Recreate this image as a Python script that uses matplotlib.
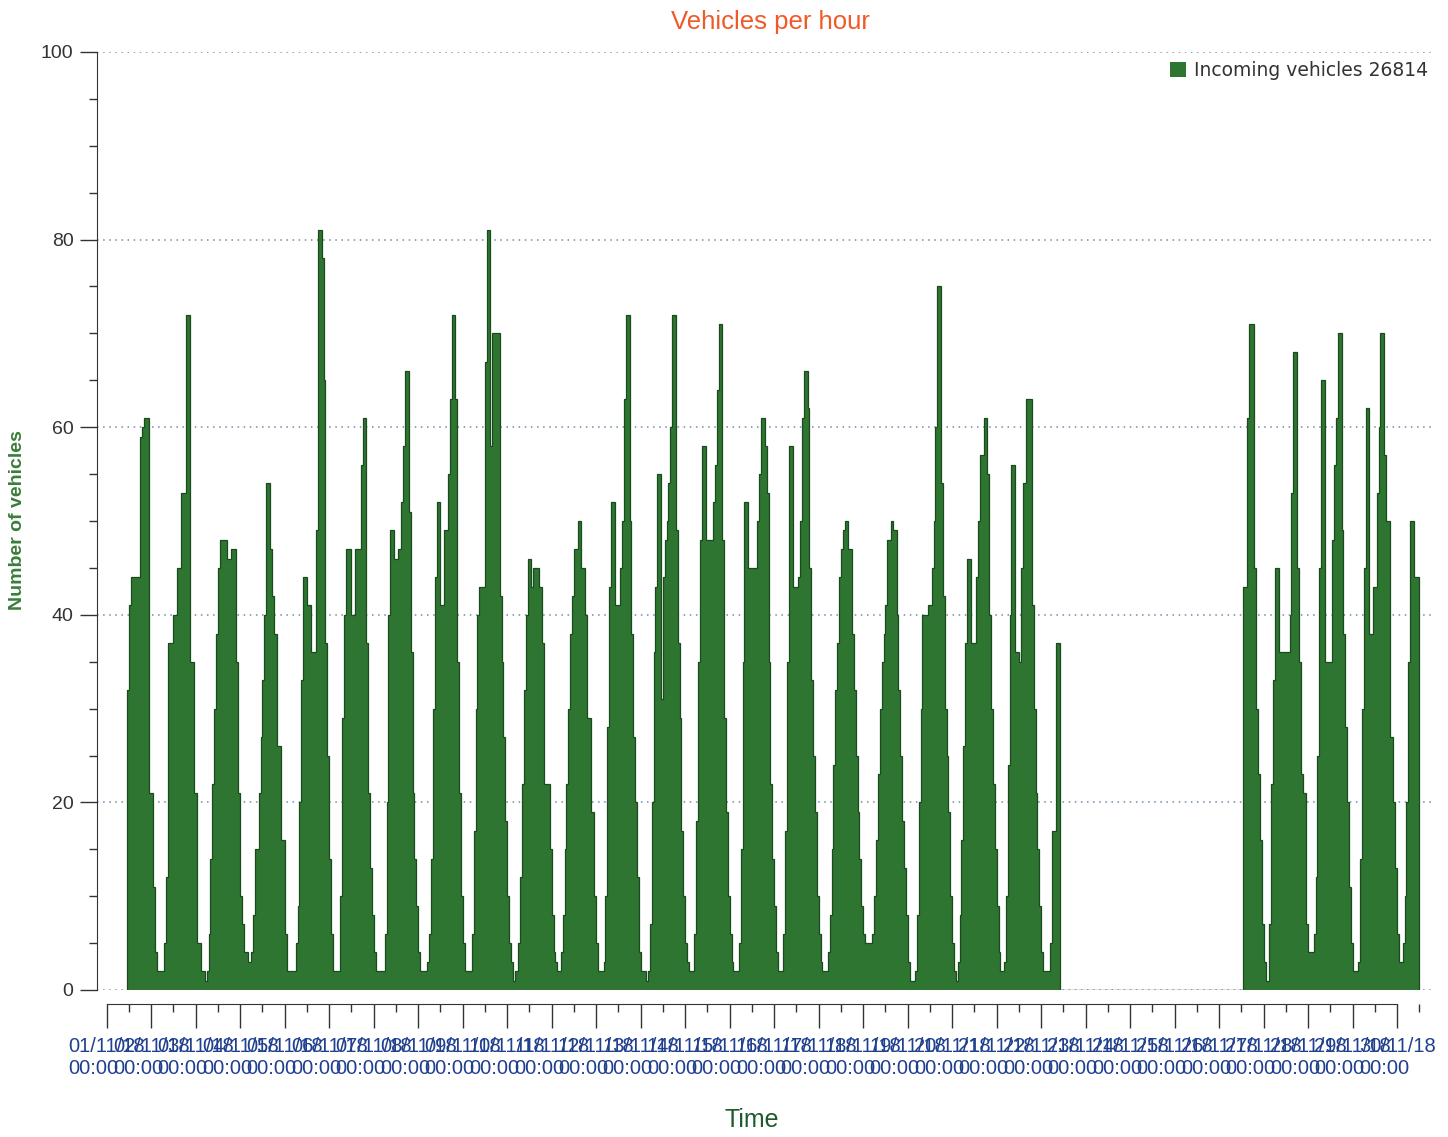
import numpy as np
import pandas as pd
import matplotlib
matplotlib.use('Agg')
import matplotlib.pyplot as plt
from matplotlib.ticker import MultipleLocator

plt.rcParams['font.family'] = ['Liberation Sans', 'DejaVu Sans']

# hourly counts per day (index = hour of day), partial days noted
nov01 = [32, 41, 44, 44, 44, 44, 44, 59, 60, 61, 61, 61, 21]  # from 11:00
nov02 = [21, 11, 4, 2, 2, 2, 2, 5, 12, 37, 37, 37, 40, 40, 45, 45, 53, 53, 53, 72, 72, 35, 35, 21]
nov03 = [21, 5, 5, 2, 2, 1, 2, 6, 14, 22, 30, 38, 45, 48, 48, 48, 48, 46, 46, 47, 47, 47, 35, 21]
nov04 = [10, 7, 4, 4, 3, 3, 4, 8, 15, 15, 21, 27, 33, 40, 54, 54, 47, 42, 38, 38, 26, 26, 16, 16]
nov05 = [6, 2, 2, 2, 2, 2, 5, 9, 20, 33, 44, 44, 41, 41, 36, 36, 36, 49, 81, 81, 78, 65, 37, 25]
nov06 = [14, 6, 2, 2, 2, 2, 10, 29, 40, 47, 47, 47, 40, 40, 47, 47, 47, 56, 61, 61, 37, 21, 13, 8]
nov07 = [4, 2, 2, 2, 2, 2, 6, 20, 40, 49, 49, 46, 46, 47, 47, 52, 58, 66, 66, 51, 36, 21, 14, 9]
nov08 = [4, 2, 2, 2, 2, 3, 6, 14, 30, 44, 52, 52, 41, 41, 49, 49, 55, 63, 72, 72, 63, 35, 21, 10]
nov09 = [5, 2, 2, 2, 2, 6, 17, 30, 40, 43, 43, 43, 67, 81, 81, 58, 70, 70, 70, 70, 42, 35, 27, 18]
nov10 = [10, 5, 3, 1, 2, 2, 5, 12, 22, 32, 40, 46, 46, 43, 45, 45, 45, 43, 43, 37, 22, 22, 22, 15]
nov11 = [8, 4, 3, 2, 2, 4, 8, 15, 22, 30, 38, 42, 47, 47, 50, 50, 45, 45, 40, 29, 29, 19, 19, 10]
nov12 = [5, 2, 2, 2, 3, 10, 28, 43, 52, 52, 41, 41, 41, 45, 50, 63, 72, 72, 50, 38, 27, 20, 12, 4]
nov13 = [2, 2, 2, 1, 2, 7, 20, 36, 43, 55, 55, 31, 44, 48, 50, 54, 60, 72, 72, 49, 37, 29, 17, 10]
nov14 = [5, 3, 2, 2, 2, 6, 18, 35, 48, 58, 58, 48, 48, 48, 48, 52, 56, 64, 71, 71, 48, 29, 19, 10]
nov15 = [6, 3, 2, 2, 2, 5, 15, 35, 52, 52, 45, 45, 45, 45, 45, 50, 55, 61, 61, 58, 53, 35, 22, 14]
nov16 = [9, 4, 2, 2, 2, 6, 17, 35, 58, 58, 43, 43, 43, 44, 50, 61, 66, 66, 62, 45, 33, 25, 19, 10]
nov17 = [6, 3, 2, 2, 2, 4, 8, 15, 24, 32, 37, 44, 47, 49, 50, 50, 47, 47, 38, 32, 25, 19, 14, 9]
nov18 = [6, 5, 5, 5, 5, 6, 10, 16, 23, 30, 35, 38, 41, 48, 48, 50, 49, 49, 40, 32, 25, 18, 13, 8]
nov19 = [3, 1, 1, 1, 2, 8, 20, 30, 40, 40, 40, 41, 41, 45, 50, 60, 75, 75, 54, 42, 30, 25, 19, 10]
nov20 = [5, 2, 1, 3, 8, 16, 26, 37, 46, 46, 37, 37, 37, 44, 50, 57, 57, 61, 61, 55, 40, 30, 22, 15]
nov21 = [9, 4, 2, 2, 3, 10, 24, 40, 56, 56, 36, 36, 35, 45, 54, 54, 63, 63, 63, 41, 30, 21, 15, 9]
nov22 = [4, 2, 2, 2, 2, 5, 17, 17, 37, 37]  # until 09:00
nov26 = [43, 43, 61, 71, 71, 71, 45, 30, 23, 16, 7]  # from 13:00
nov27 = [3, 1, 1, 7, 22, 33, 45, 45, 36, 36, 36, 36, 36, 36, 40, 53, 68, 68, 45, 35, 23, 21, 21, 7]
nov28 = [4, 4, 4, 6, 12, 25, 45, 65, 65, 35, 35, 35, 35, 48, 56, 61, 70, 70, 49, 38, 28, 20, 11, 5]
nov29 = [2, 2, 2, 3, 14, 30, 45, 62, 62, 38, 38, 43, 43, 53, 60, 70, 70, 57, 50, 50, 27, 27, 20, 13]
nov30 = [6, 3, 3, 5, 10, 20, 35, 50, 50, 44, 44, 44]  # until 11:00

# hours counted from 01/11/18 00:00
run1_start = 11
run2_start = 25 * 24 + 13
run1 = (nov01 + nov02 + nov03 + nov04 + nov05 + nov06 + nov07 + nov08 + nov09 + nov10 + nov11
        + nov12 + nov13 + nov14 + nov15 + nov16 + nov17 + nov18 + nov19 + nov20 + nov21 + nov22)
run2 = nov26 + nov27 + nov28 + nov29 + nov30

days = pd.date_range('2018-11-01', '2018-11-30', freq='D')
day_labels = days.strftime('%d/%m/%y\n%H:%M')
day_ticks = np.arange(len(days)) * 24

fill = '#2e7532'
edge = '#1c4a1f'

fig = plt.figure(figsize=(14.48, 11.37), dpi=100)
ax = fig.add_axes([97 / 1448, 1 - 990 / 1137, 1338 / 1448, 938 / 1137])

for start, vals in [(run1_start, run1), (run2_start, run2)]:
    hrs = start + np.arange(len(vals))
    bars = ax.bar(hrs, vals, width=1, align='edge', color=fill, linewidth=0, zorder=2)
    ax.stairs(vals, np.append(hrs, hrs[-1] + 1), baseline=0, color=edge, lw=0.9, zorder=3)
bars.set_label('Incoming vehicles 26814')

# no data between the two runs
ax.plot([run1_start + len(run1), run2_start], [0, 0], color='#5b735b', lw=1, zorder=3)

ax.set_xlim(-5.2, 716.4)
ax.set_ylim(0, 100)

ax.spines['top'].set_visible(False)
ax.spines['right'].set_visible(False)
ax.spines['bottom'].set_position(('outward', 10))
ax.spines['bottom'].set_bounds(0, day_ticks[-1])
ax.spines['bottom'].set_color('#333333')
ax.spines['left'].set_color('#333333')

ax.set_xticks(day_ticks)
ax.set_xticklabels(day_labels)
ax.xaxis.set_minor_locator(MultipleLocator(12))
ax.tick_params(axis='x', which='major', length=17, width=1, color='#333333',
               labelsize=14.5, labelcolor='#1f3f8f', pad=7)
ax.tick_params(axis='x', which='minor', length=6, width=1, color='#333333')
for lab in ax.get_xticklabels():
    lab.set_multialignment('left')

ax.set_yticks(np.arange(0, 101, 20))
ax.yaxis.set_minor_locator(MultipleLocator(5))
ax.tick_params(axis='y', which='major', length=12, width=1, color='#333333',
               labelsize=14, labelcolor='#333333', pad=5)
ax.tick_params(axis='y', which='minor', length=6, width=1, color='#333333')

ax.yaxis.grid(True, linestyle=(0, (1, 3)), color='#6f8cab', lw=1.1)
ax.set_axisbelow(True)

leg = ax.legend(loc='upper right', bbox_to_anchor=(1428 / 1448, 1 - 61 / 1137),
                bbox_transform=fig.transFigure, frameon=False, borderpad=0, borderaxespad=0,
                handlelength=0.9, handleheight=0.9, handletextpad=0.4,
                prop={'family': 'DejaVu Sans', 'size': 13.5})
for t in leg.get_texts():
    t.set_color('#333333')

fig.text(770 / 1448, 1 - 22 / 1137, 'Vehicles per hour', ha='center', va='center',
         fontsize=18.5, color='#f05a28')
fig.text(18 / 1448, 1 - 520 / 1137, 'Number of vehicles', ha='center', va='center',
         rotation=90, fontsize=14, fontweight='bold', color='#3a7d3a')
fig.text(752 / 1448, 1 - 1120 / 1137, 'Time', ha='center', va='center',
         fontsize=18, color='#1f5a2a')

fig.savefig('out.png', dpi=100)
